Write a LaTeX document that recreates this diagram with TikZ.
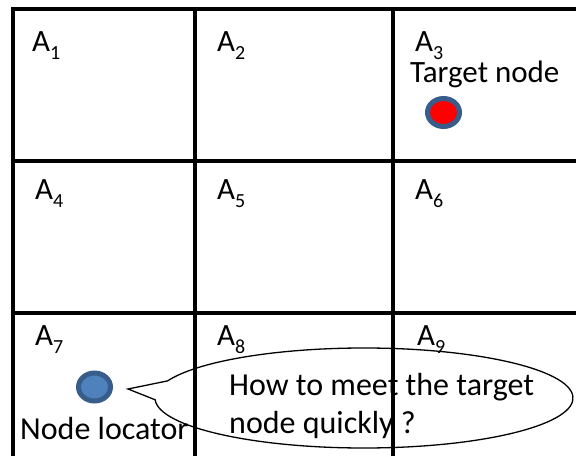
\documentclass[tikz,border=0pt]{standalone}
\usepackage{fontspec}
\setmainfont{Carlito}
\usetikzlibrary{calc}
\definecolor{dotblue}{HTML}{4F81BD}
\definecolor{dotedge}{HTML}{385D8A}
\newcommand{\cellA}[1]{A\raisebox{-8pt}{\fontsize{20}{20}\selectfont #1}}
\begin{document}
\begin{tikzpicture}[x=1pt,y=1pt,
  gridline/.style={line width=4pt,black},
  celllabel/.style={anchor=base west,inner sep=0pt,font=\fontsize{31}{37}\selectfont},
  plaintext/.style={anchor=base west,inner sep=0pt,font=\fontsize{32}{39}\selectfont},
  dot/.style={line width=5pt,draw=dotedge},
  callout/.style={line width=1.3pt,black}]
\useasboundingbox (0,0) rectangle (576,456);
% callout (drawn below the grid)
\coordinate (ctr) at (364,58);
\coordinate (tip) at (128,67);
\draw[callout] ($(ctr)+(160:209pt and 50pt)$) -- (tip) -- ($(ctr)+(182:209pt and 50pt)$)
  arc[start angle=182,end angle=520,x radius=209,y radius=50] -- cycle;
\node[plaintext] (q1) at (229,61) {How to meet the target};
\node[plaintext] (q2) at (229,23) {node quickly ?};
% grid
\draw[gridline] (13,0) -- (13,447) -- (576,447);
\draw[gridline] (13,295) -- (576,295);
\draw[gridline] (13,143) -- (576,143);
\draw[gridline] (195,0) -- (195,447);
\draw[gridline] (393,0) -- (393,447);
% labels
\node[celllabel] (a1) at (32,404) {\cellA{1}};
\node[celllabel] (a2) at (217,404) {\cellA{2}};
\node[celllabel] (a3) at (415,404) {\cellA{3}};
\node[celllabel] (a4) at (35,256) {\cellA{4}};
\node[celllabel] (a5) at (217,256) {\cellA{5}};
\node[celllabel] (a6) at (415,256) {\cellA{6}};
\node[celllabel] (a7) at (35,111) {\cellA{7}};
\node[celllabel] (a8) at (217,111) {\cellA{8}};
\node[celllabel] (a9) at (417,111) {\cellA{9}};
\node[celllabel] (tn) at (410,373) {Target node};
\node[plaintext] (nl) at (20,17) {Node locator};
% dots
\draw[dot,fill=red] (443.5,343.5) ellipse[x radius=16,y radius=14];
\draw[dot,fill=dotblue] (94.5,69) ellipse[x radius=16,y radius=14];
\end{tikzpicture}
\end{document}
